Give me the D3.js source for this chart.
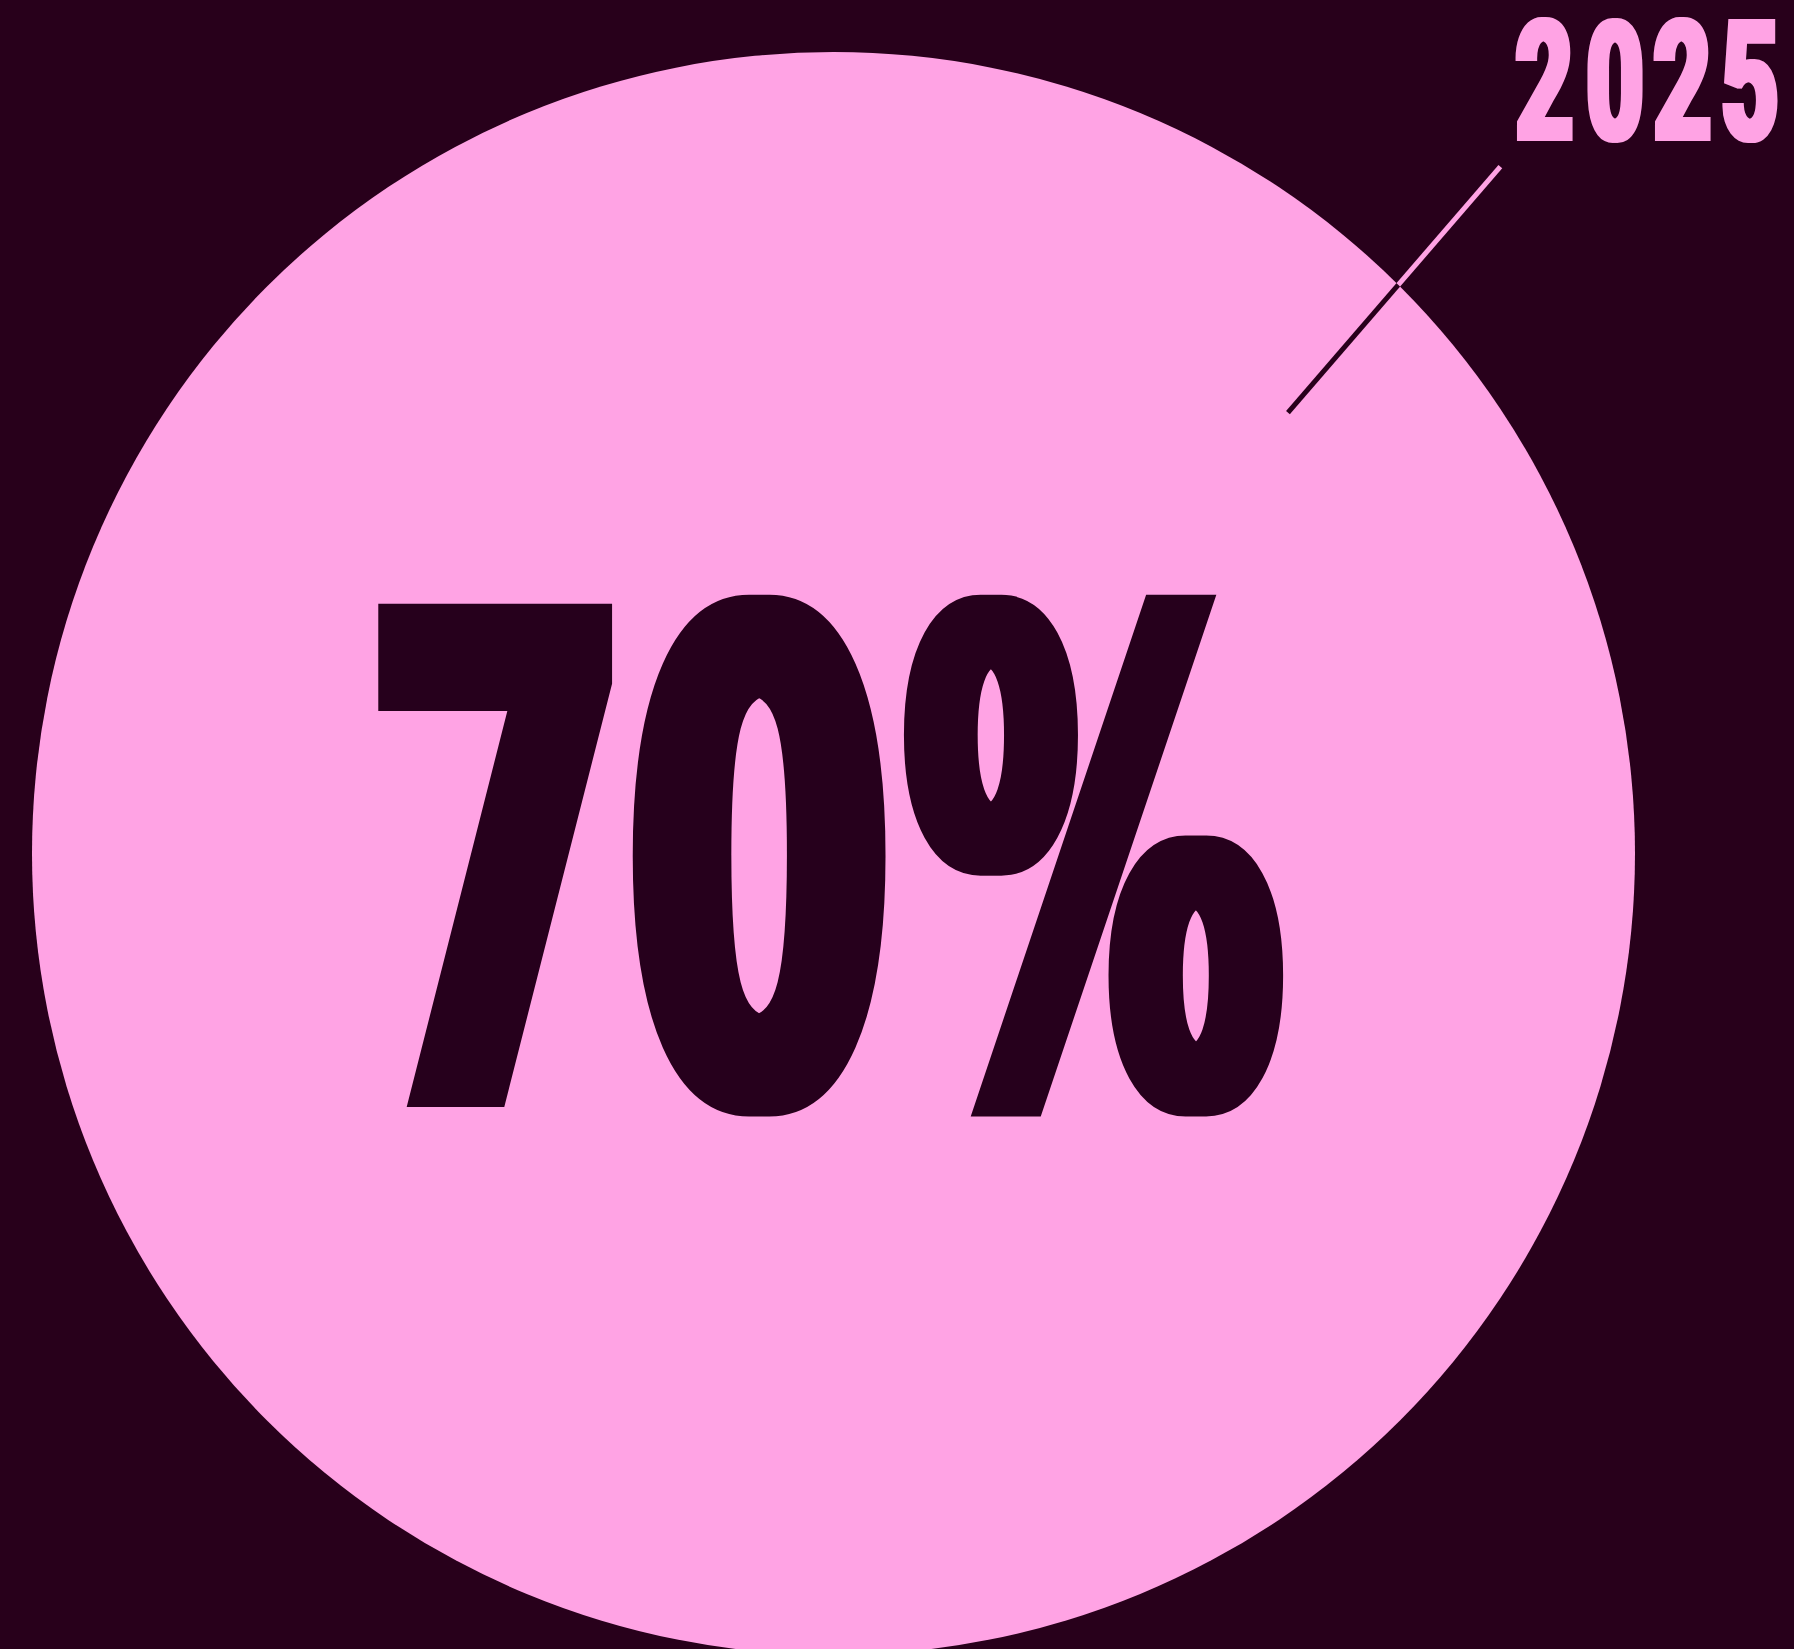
<!DOCTYPE html>
<html>
<head>
<meta charset="utf-8">
<script src="https://cdn.jsdelivr.net/npm/d3@7"></script>
<style>
  html, body { margin: 0; padding: 0; background: #28001b; }
  svg { display: block; }
</style>
</head>
<body>
<div id="chart"></div>
<script>
// ---- data ----
const years = ["2025"];
const shares = [70];                 // percent
const shareLabels = shares.map(d => d3.format("d")(d) + "%");
// leader line endpoints in unit-circle coordinates (inner, outer)
const leaderX = [0.567, 0.832];
const leaderY = [0.550, 0.857];

// ---- layout ----
const W = 1794, H = 1649;
const cx = 833.5, cy = 853.5, R = 801.5;
const BG = "#28001b", PINK = "#ffa3e4";
// glyph ink boxes [x0, y0, x1, y1]
const shareBoxes = [[378, 604, 614, 1105], [634, 591, 887, 1116], [895, 591, 1297, 1116]];
const yearBoxes = [[1515, 18, 1574, 142], [1583, 16, 1646, 143], [1653, 18, 1712, 142], [1723, 18, 1778, 143]];

const x = d3.scaleLinear().domain([-1, 1]).range([cx - R, cx + R]);
const y = d3.scaleLinear().domain([-1, 1]).range([cy + R, cy - R]);

const svg = d3.select("#chart").append("svg")
  .attr("width", W).attr("height", H)
  .attr("viewBox", `0 0 ${W} ${H}`);

svg.append("rect").attr("width", W).attr("height", H).attr("fill", BG);

const defs = svg.append("defs");
defs.append("clipPath").attr("id", "disc")
  .append("circle").attr("cx", x(0)).attr("cy", y(0)).attr("r", x(1) - x(0));

svg.append("circle")
  .attr("cx", x(0)).attr("cy", y(0)).attr("r", x(1) - x(0))
  .attr("fill", PINK);

const leader = d3.line().x(d => x(d[0])).y(d => y(d[1]));
const pts = d3.zip(leaderX, leaderY);
svg.append("path").attr("d", leader(pts))
  .attr("stroke", PINK).attr("stroke-width", 5).attr("fill", "none");
svg.append("path").attr("d", leader(pts))
  .attr("stroke", BG).attr("stroke-width", 5).attr("fill", "none")
  .attr("clip-path", "url(#disc)");

const ctx = document.createElement("canvas").getContext("2d");
const MS = 1000; // measuring size

// one text element; each glyph centred in its box, whole label scaled to the boxes;
// weight added by an outline of width s plus a horizontal dilation of rx pixels
function fitLabel(text, boxes, fam, color, s, rx, id) {
  const chars = Array.from(text);
  ctx.font = `bold ${MS}px ${fam}`;
  let asc = 0, desc = 0;
  const ms = chars.map(c => {
    const m = ctx.measureText(c);
    asc = Math.max(asc, m.actualBoundingBoxAscent);
    desc = Math.max(desc, m.actualBoundingBoxDescent);
    return m;
  });
  const y0 = d3.min(boxes, b => b[1]), y1 = d3.max(boxes, b => b[3]);
  const sy = (y1 - y0 - s) / (asc + desc);
  const sx = d3.sum(boxes, b => b[2] - b[0] - 2 * rx - s) /
             d3.sum(ms, m => m.actualBoundingBoxLeft + m.actualBoundingBoxRight);
  const ty = y0 + s / 2 + asc * sy;
  const xs = ms.map((m, i) => {
    const c = (boxes[i][0] + boxes[i][2]) / 2;
    return c / sx - (m.actualBoundingBoxRight - m.actualBoundingBoxLeft) / 2;
  });
  defs.append("filter").attr("id", id)
    .attr("x", "-10%").attr("y", "-10%").attr("width", "120%").attr("height", "120%")
    .append("feMorphology").attr("operator", "dilate").attr("radius", `${rx} 0`);
  svg.append("g").attr("filter", `url(#${id})`)
    .append("text")
    .attr("transform", `translate(0,${ty}) scale(${sx},${sy})`)
    .attr("x", xs.join(" ")).attr("y", 0)
    .attr("font-family", fam).attr("font-weight", "bold").attr("font-size", MS)
    .attr("fill", color)
    .attr("stroke", color).attr("stroke-width", s)
    .attr("stroke-linejoin", "miter")
    .attr("vector-effect", "non-scaling-stroke")
    .text(text);
}

function draw() {
  fitLabel(shareLabels[0], shareBoxes, "'DejaVu Sans'", BG, 12, 10, "fatShare");
  fitLabel(years[0], yearBoxes, "Roboto", PINK, 5, 2, "fatYear");
}
(document.fonts && document.fonts.ready ? document.fonts.ready : Promise.resolve()).then(draw);
</script>
</body>
</html>
